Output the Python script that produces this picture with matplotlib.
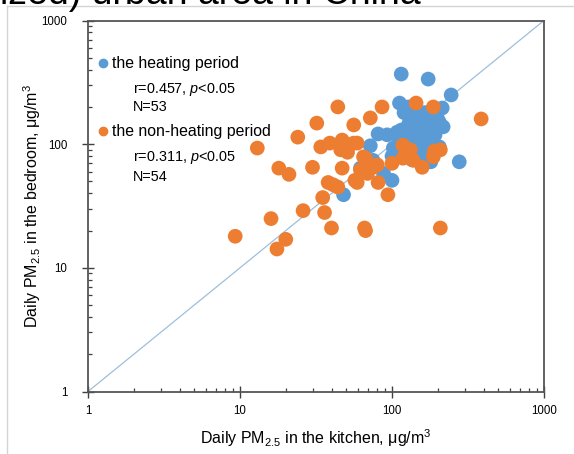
import matplotlib
matplotlib.use("Agg")
import matplotlib.pyplot as plt
from matplotlib.ticker import FixedLocator, FixedFormatter, LogLocator, NullFormatter

plt.rcParams['font.family'] = ['Liberation Sans', 'DejaVu Sans']
plt.rcParams['mathtext.fontset'] = 'custom'
plt.rcParams['mathtext.rm'] = 'Liberation Sans'
plt.rcParams['mathtext.it'] = 'Liberation Sans:italic'
plt.rcParams['mathtext.default'] = 'regular'

# Daily PM2.5 (µg/m3): kitchen (x) vs bedroom (y)
heating_kitchen = [115, 173, 245, 112, 128, 214, 136, 153, 178, 217, 126, 108, 81, 93, 192,
                   149, 102, 72, 178, 277, 100, 48, 62, 88, 75,
                   120, 140, 165, 185, 200, 130, 150, 170, 190, 205, 115, 140, 160, 195,
                   110, 130, 150, 170, 185, 125, 145, 165, 190, 205, 135, 155, 180, 100]
heating_bedroom = [369, 336, 250, 215, 200, 196, 157, 163, 157, 138, 138, 125, 121, 119, 119,
                   102, 93, 97, 130, 72, 51, 39, 64, 58, 74,
                   180, 175, 180, 170, 160, 150, 150, 145, 145, 150, 130, 130, 125, 135,
                   115, 110, 112, 108, 100, 92, 88, 85, 85, 95, 75, 70, 72, 80]

nonheating_kitchen = [44, 86, 72, 32, 56, 144, 187, 386, 24, 13, 34, 39, 47, 56, 46, 18, 21,
                      30, 47, 62, 38, 44, 35, 26, 36, 16, 40, 66, 67, 9.3, 20, 17.5, 208,
                      208, 187, 118, 138, 158, 100, 80, 65, 51, 59, 69, 81, 94, 132, 118,
                      57, 75, 59, 67, 41, 190]
nonheating_bedroom = [200, 200, 163, 148, 143, 215, 200, 160, 114, 93, 95, 102, 108, 102, 90,
                      64, 57, 65, 64, 62, 49, 45, 37, 29, 28, 25, 21, 21, 20, 18, 17, 14.2,
                      21, 90, 79, 98, 74, 65, 70, 68, 79, 86, 49, 58, 49, 39, 90, 77,
                      51, 65, 102, 77, 47, 88]

tick_values = [1, 10, 100, 1000]
tick_labels = ['1', '10', '100', '1000']

BLUE = '#5B9BD5'
ORANGE = '#ED7D31'

fig = plt.figure(figsize=(5.74, 4.54), dpi=100)
fig.patch.set_facecolor('white')

# caption line running above the panel (only its lower edge falls inside the frame)
fig.text(0.0, 1 - 4.5 / 454, 'ized) urban area in China', fontsize=27, color='black',
         ha='left', va='baseline')
fig.add_artist(plt.Line2D([7 / 574, 1.0], [1 - 6 / 454, 1 - 6 / 454],
                          transform=fig.transFigure, color='#d4d4d4', lw=1.0))
fig.add_artist(plt.Line2D([7 / 574, 7 / 574], [0, 1 - 6 / 454],
                          transform=fig.transFigure, color='#d4d4d4', lw=1.0))

ax = fig.add_axes([88 / 574, 1 - 391.5 / 454, 456 / 574, 371 / 454])
ax.set_xscale('log')
ax.set_yscale('log')
ax.set_xlim(1, 1000)
ax.set_ylim(1, 1000)

# 1:1 line
ax.plot([1, 1000], [1, 1000], color='#9dbfdc', lw=0.9, zorder=1)

ax.scatter(heating_kitchen, heating_bedroom, s=112, color=BLUE, edgecolors='none', zorder=2)
ax.scatter(nonheating_kitchen, nonheating_bedroom, s=112, color=ORANGE, edgecolors='none', zorder=3)

for axis in (ax.xaxis, ax.yaxis):
    axis.set_major_locator(FixedLocator(tick_values))
    axis.set_major_formatter(FixedFormatter(tick_labels))
    axis.set_minor_locator(LogLocator(base=10, subs=range(2, 10)))
    axis.set_minor_formatter(NullFormatter())

ax.tick_params(which='major', direction='inout', length=8, width=1.0, color='#404040',
               labelsize=8.3)
ax.tick_params(axis='x', which='major', pad=6)
ax.tick_params(axis='y', which='major', pad=11)
ax.tick_params(which='minor', direction='in', length=3, width=0.9, color='#404040')

for sp in ax.spines.values():
    sp.set_color('#555555')
    sp.set_linewidth(1.3)

ax.set_xlabel('Daily PM$_{2.5}$ in the kitchen, μg/m$^3$', fontsize=11.5, labelpad=7)
ax.set_ylabel('Daily PM$_{2.5}$ in the bedroom, μg/m$^3$', fontsize=11.5)
ax.yaxis.set_label_coords(-0.098, 0.5)

# key with correlation statistics
tr = ax.transAxes
ax.plot([0.033], [0.885], 'o', ms=6, color=BLUE, transform=tr, clip_on=False)
ax.text(0.053, 0.885, 'the heating period', fontsize=11.4, transform=tr, va='center')
ax.text(0.099, 0.813, r'r=0.457, $\mathit{p}$<0.05', fontsize=10.4, transform=tr, va='center')
ax.text(0.099, 0.767, 'N=53', fontsize=10.4, transform=tr, va='center')
ax.plot([0.033], [0.702], 'o', ms=6, color=ORANGE, transform=tr, clip_on=False)
ax.text(0.053, 0.702, 'the non-heating period', fontsize=11.4, transform=tr, va='center')
ax.text(0.099, 0.632, r'r=0.311, $\mathit{p}$<0.05', fontsize=10.4, transform=tr, va='center')
ax.text(0.099, 0.578, 'N=54', fontsize=10.4, transform=tr, va='center')

fig.savefig('out.png', dpi=100, facecolor='white')
